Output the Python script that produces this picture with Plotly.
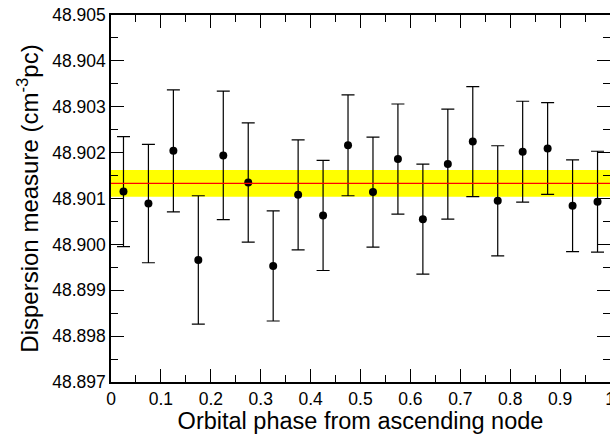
import plotly.graph_objects as go

# Data
phase = [0.025, 0.075, 0.125, 0.175, 0.225, 0.275, 0.325, 0.375, 0.425, 0.475,
         0.525, 0.575, 0.625, 0.675, 0.725, 0.775, 0.825, 0.875, 0.925, 0.975]
dm = [48.90115, 48.90089, 48.90204, 48.89966, 48.90194, 48.90135, 48.89953, 48.90108, 48.90063, 48.90216,
      48.90114, 48.90186, 48.90055, 48.90175, 48.90224, 48.90095, 48.90202, 48.90209, 48.90084, 48.90093]
dm_err = [0.00120, 0.00129, 0.00133, 0.00140, 0.00140, 0.00130, 0.00120, 0.00120, 0.00120, 0.00110,
          0.00120, 0.00120, 0.00120, 0.00120, 0.00120, 0.00120, 0.00110, 0.00100, 0.00100, 0.00110]

dm_mean = 48.90133
band_low = 48.90104
band_high = 48.90162

x_range = [0, 1]
y_range = [48.897, 48.905]

FONT = "Liberation Sans, Arial, Helvetica, sans-serif"

fig = go.Figure()

fig.add_shape(type="rect", xref="x", yref="y", x0=x_range[0], x1=x_range[1],
              y0=band_low, y1=band_high, fillcolor="#ffff00", line=dict(width=0), layer="below")
fig.add_shape(type="line", xref="x", yref="y", x0=x_range[0], x1=x_range[1],
              y0=dm_mean, y1=dm_mean, line=dict(color="#ff0000", width=1.2), layer="above")

fig.add_trace(go.Scatter(
    x=phase, y=dm, mode="markers",
    marker=dict(color="black", size=8, symbol="circle"),
    error_y=dict(type="data", array=dm_err, visible=True, color="black", thickness=1.2, width=6.5),
    showlegend=False,
))

axis_common = dict(
    showline=True, linecolor="black", linewidth=1.5, mirror="allticks",
    ticks="inside", ticklen=13, tickwidth=1, tickcolor="black",
    showgrid=False, zeroline=False, ticklabeloverflow="allow",
    tickfont=dict(family=FONT, size=17.5, color="black"),
)

fig.update_xaxes(
    range=x_range, tick0=0, dtick=0.1,
    minor=dict(ticks="inside", ticklen=7, tickwidth=1, tickcolor="black", dtick=0.05, tick0=0, showgrid=False),
    title=dict(text="Orbital phase from ascending node", font=dict(family=FONT, size=23.5, color="black"), standoff=6),
    **axis_common,
)
fig.update_yaxes(
    range=y_range, tick0=48.897, dtick=0.001, tickformat=".3f",
    minor=dict(ticks="inside", ticklen=7, tickwidth=1, tickcolor="black", dtick=0.0005, showgrid=False),
    title=dict(text="Dispersion measure (cm<sup>-3</sup>pc)", font=dict(family=FONT, size=24, color="black"), standoff=7),
    **axis_common,
)

fig.update_layout(
    width=610, height=434,
    margin=dict(l=111, r=0, t=15, b=52, autoexpand=False),
    plot_bgcolor="white", paper_bgcolor="white",
    font=dict(family=FONT, color="black"),
)

fig.write_html(
    "out.html",
    config={"displayModeBar": False},
    post_script="document.body.style.margin='0';document.body.style.padding='0';document.body.style.overflow='hidden';",
)
